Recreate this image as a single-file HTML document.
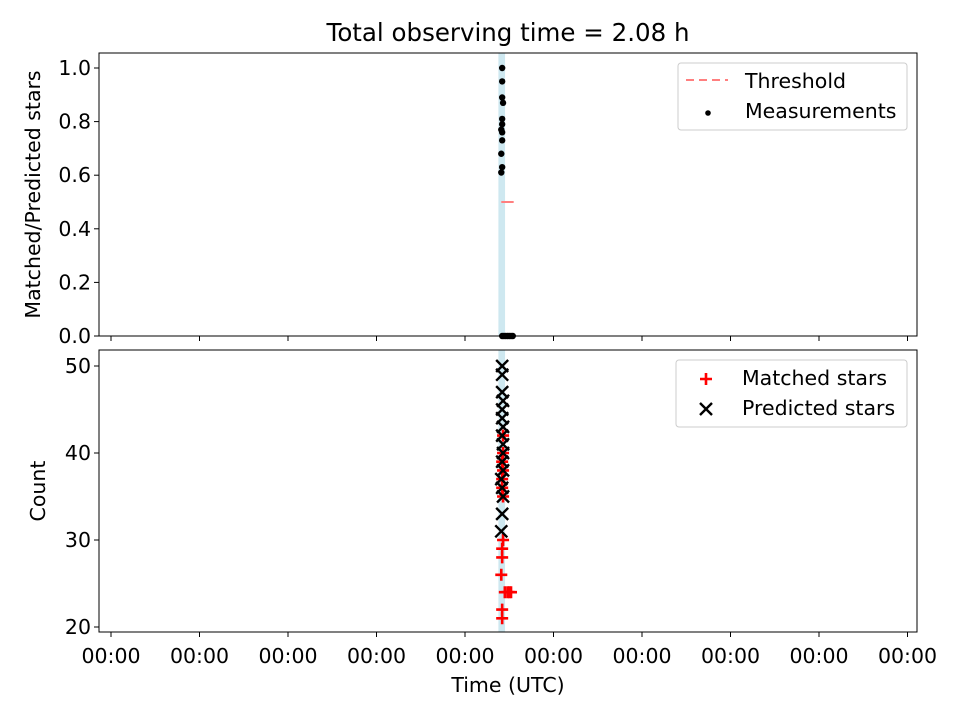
<!DOCTYPE html>
<html><head><meta charset="utf-8"><style>
body{margin:0;background:#fff}
svg{font-family:"DejaVu Sans","Liberation Sans",sans-serif;font-size:20.5px}
</style></head><body>
<svg id="c" width="960" height="720">
<text x="508" y="41" text-anchor="middle" font-size="24.5">Total observing time = 2.08 h</text>
</svg>
<script>
// data (x in tick-index units; tick i = label "00:00")
const xTickLabels=["00:00","00:00","00:00","00:00","00:00","00:00","00:00","00:00","00:00","00:00"];
const topYTicks=[0.0,0.2,0.4,0.6,0.8,1.0];
const botYTicks=[20,30,40,50];
const obsStart=4.40, obsEnd=4.43;
const threshold=0.5;
const measX=[4.42,4.42,4.42,4.43,4.42,4.42,4.41,4.42,4.42,4.41,4.42,4.41,4.42,4.44,4.46,4.48,4.50,4.52,4.54];
const measY=[1.0,0.95,0.89,0.87,0.81,0.79,0.77,0.76,0.73,0.68,0.63,0.61,0,0,0,0,0,0,0];
const predX=[4.42,4.42,4.42,4.43,4.42,4.42,4.43,4.42,4.43,4.43,4.42,4.43,4.41,4.42,4.43,4.42,4.41];
const predY=[50,49,47,46,45,44,43,42,41,40,39,38,37,36,35,33,31];
const matchX=[4.43,4.43,4.42,4.43,4.42,4.42,4.43,4.43,4.42,4.42,4.41,4.45,4.48,4.50,4.52,4.42,4.42];
const matchY=[42,40,39,38,37,36,35,30,29,28,26,24,24,24,24,22,21];

const svg=document.getElementById('c');
const NS='http://www.w3.org/2000/svg';
function mk(tag,attrs,parent){const e=document.createElementNS(NS,tag);for(const k in attrs)e.setAttribute(k,attrs[k]);(parent||svg).appendChild(e);return e;}
const L=99,R=917;
const X=v=>111+v*88.5;
const T={top:53,bot:336,y:v=>336-v*268};
const B={top:350,bot:632,y:v=>627-(v-20)*8.7};

// top axes
let g=mk('g',{});


mk('rect',{x:X(obsStart)-2,y:T.top,width:X(obsEnd)-X(obsStart)+4,height:T.bot-T.top,fill:'#add8e6',opacity:0.6},g);
let th=mk('line',{x1:X(4.41),x2:X(4.55),y1:T.y(threshold),y2:T.y(threshold),stroke:'#ff7f7f','stroke-width':2},g);


measX.forEach((x,i)=>{const c=mk('circle',{cx:X(x),cy:T.y(measY[i]),r:3.2,fill:'#000'},g);

});
topYTicks.forEach(v=>{mk('line',{x1:L-5,x2:L,y1:T.y(v),y2:T.y(v),stroke:'#000'},g);
const t=mk('text',{x:L-8,y:T.y(v)+7,'text-anchor':'end'},g);t.textContent=v.toFixed(1);

});
xTickLabels.forEach((s,i)=>mk('line',{x1:X(i),x2:X(i),y1:T.bot,y2:T.bot+5,stroke:'#000'},g));
mk('rect',{x:L,y:T.top,width:R-L,height:T.bot-T.top,fill:'none',stroke:'#000'},g);
let yt=mk('text',{x:40,y:(T.top+T.bot)/2,'text-anchor':'middle',transform:`rotate(-90 40 ${(T.top+T.bot)/2})`},g);
yt.textContent='Matched/Predicted stars';


// top legend
let lg=mk('g',{},g);


mk('rect',{x:678,y:63,width:229,height:67,rx:3,fill:'#fff',stroke:'#ccc'},lg);
mk('line',{x1:686,x2:728,y1:80,y2:80,stroke:'#ff7f7f','stroke-width':2,'stroke-dasharray':'8,5'},lg);
mk('circle',{cx:708,cy:113,r:2.8,fill:'#000'},lg);
let t1=mk('text',{x:745,y:88},lg);t1.textContent='Threshold';
let t2=mk('text',{x:745,y:118},lg);t2.textContent='Measurements';

// bottom axes
g=mk('g',{});


mk('rect',{x:X(obsStart)-2,y:B.top,width:X(obsEnd)-X(obsStart)+4,height:B.bot-B.top,fill:'#add8e6',opacity:0.6},g);
matchX.forEach((x,i)=>{const cx=X(x),cy=B.y(matchY[i]);
const p=mk('path',{d:`M${cx-6},${cy}H${cx+6}M${cx},${cy-6}V${cy+6}`,stroke:'#f00','stroke-width':2.6},g);

});
predX.forEach((x,i)=>{const cx=X(x),cy=B.y(predY[i]);
const p=mk('path',{d:`M${cx-6},${cy-6}L${cx+6},${cy+6}M${cx-6},${cy+6}L${cx+6},${cy-6}`,stroke:'#000','stroke-width':2.4},g);

});
botYTicks.forEach(v=>{mk('line',{x1:L-5,x2:L,y1:B.y(v),y2:B.y(v),stroke:'#000'},g);
const t=mk('text',{x:L-8,y:B.y(v)+7,'text-anchor':'end'},g);t.textContent=v;

});
xTickLabels.forEach((s,i)=>{mk('line',{x1:X(i),x2:X(i),y1:B.bot,y2:B.bot+5,stroke:'#000'},g);
const t=mk('text',{x:X(i),y:B.bot+31,'text-anchor':'middle'},g);t.textContent=s;

});
mk('rect',{x:L,y:B.top,width:R-L,height:B.bot-B.top,fill:'none',stroke:'#000'},g);
let by=mk('text',{x:45,y:(B.top+B.bot)/2,'text-anchor':'middle',transform:`rotate(-90 45 ${(B.top+B.bot)/2})`},g);
by.textContent='Count';


let xt=mk('text',{x:508,y:692,'text-anchor':'middle'},g);
xt.textContent='Time (UTC)';


// bottom legend
lg=mk('g',{},g);


mk('rect',{x:676,y:360,width:231,height:67,rx:3,fill:'#fff',stroke:'#ccc'},lg);
mk('path',{d:'M700,379H712M706,373V385',stroke:'#f00','stroke-width':2.6},lg);
mk('path',{d:'M700,403L712,415M700,415L712,403',stroke:'#000','stroke-width':2.4},lg);
let t3=mk('text',{x:742,y:385},lg);t3.textContent='Matched stars';
let t4=mk('text',{x:742,y:415},lg);t4.textContent='Predicted stars';
</script>
</body></html>
